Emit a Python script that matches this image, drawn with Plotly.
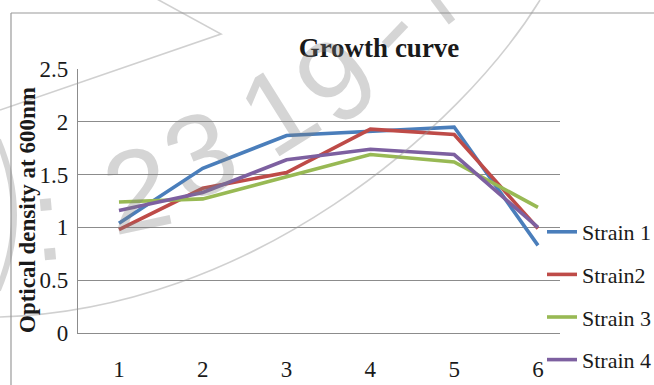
import plotly.graph_objects as go

# Sampling points (x axis) and optical density readings at 600 nm
time_points = [1, 2, 3, 4, 5, 6]
strain_names = ["Strain 1", "Strain2", "Strain 3", "Strain 4"]
strain_1 = [1.04, 1.56, 1.87, 1.91, 1.95, 0.83]
strain_2 = [0.98, 1.37, 1.52, 1.93, 1.88, 0.99]
strain_3 = [1.24, 1.27, 1.48, 1.69, 1.62, 1.19]
strain_4 = [1.16, 1.33, 1.64, 1.74, 1.69, 1.00]
y_ticks = [0, 0.5, 1, 1.5, 2, 2.5]

series = [strain_1, strain_2, strain_3, strain_4]
colors = ["#4a7ebb", "#be4b48", "#98b954", "#7d60a0"]

W, H = 654, 385
L, R, T, B = 78, 560, 69, 333  # plot area in pixels


def px(x):
    return (x - L) / (R - L)


def py(y):
    return (B - y) / (B - T)


fig = go.Figure()
for name, vals, col in zip(strain_names, series, colors):
    fig.add_trace(go.Scatter(
        x=time_points, y=vals, name=name, mode="lines",
        line=dict(color=col, width=3.6), legendgroup=name,
    ))

serif = "Liberation Serif"
grid = "#8c8c8c"
ink = "#1a1a1a"

fig.update_layout(
    width=W, height=H,
    margin=dict(l=L, r=W - R, t=T, b=H - B, autoexpand=False),
    paper_bgcolor="white", plot_bgcolor="white",
    font=dict(family=serif, color=ink),
    title=dict(text="<b>Growth curve</b>", x=379 / W, xanchor="center",
               y=1 - 48 / H, yanchor="middle",
               font=dict(family=serif, size=27, color=ink)),
    showlegend=True,
    legend=dict(x=px(542), xanchor="left", y=py(211), yanchor="top",
                font=dict(family=serif, size=22, color=ink),
                tracegroupgap=11, itemwidth=30, bgcolor="rgba(0,0,0,0)"),
    xaxis=dict(range=[0.511, 6.263], tickvals=time_points, automargin=False,
               showgrid=False, zeroline=False, showline=True,
               linecolor=grid, linewidth=1.2,
               ticks="outside", ticklen=15, tickcolor="rgba(0,0,0,0)",
               tickfont=dict(family=serif, size=23, color=ink)),
    yaxis=dict(range=[0, 2.5], tickvals=y_ticks, automargin=False,
               showgrid=True, gridcolor=grid, gridwidth=1, zeroline=False,
               showline=True, linecolor=grid, linewidth=1.2,
               ticks="outside", ticklen=4, tickcolor="rgba(0,0,0,0)",
               tickfont=dict(family=serif, size=23, color=ink)),
)

# vertical axis title
fig.add_annotation(text="<b>Optical density at 600nm</b>", xref="paper", yref="paper",
                   x=px(27), y=py(210), textangle=-90, showarrow=False,
                   xanchor="center", yanchor="middle",
                   font=dict(family=serif, size=23, color=ink))

# chart-area frame (top and left edges)
frame = dict(color="#9a9a9a", width=1.2)
fig.add_shape(type="line", xref="paper", yref="paper",
              x0=px(11), y0=py(13), x1=px(W + 5), y1=py(13), line=frame)
fig.add_shape(type="line", xref="paper", yref="paper",
              x0=px(11), y0=py(13), x1=px(11), y1=py(H + 5), line=frame)

# faint ISSN stamp overlay
stamp = "rgba(128,128,128,0.33)"
stamp_chars = [(":", 47, 220, -5), ("2", 137, 190, -12), ("3", 200, 155, -22),
               ("1", 278, 110, -32), ("9", 336, 80, -40)]
for ch, cx, cy, ang in stamp_chars:
    fig.add_annotation(text=ch, xref="paper", yref="paper", x=px(cx), y=py(cy),
                       showarrow=False, textangle=ang, xanchor="center",
                       yanchor="middle",
                       font=dict(family="Liberation Sans", size=116, color=stamp))


def path(points, cmd):
    return cmd.format(*[f"{px(a):.4f},{py(b):.4f}" for a, b in points])


# hyphen and edge strokes of the stamp, plus its thin ring lines
fig.add_shape(type="path", xref="paper", yref="paper", layer="above",
              line=dict(color=stamp, width=9),
              path=path([(385, 45), (405, 24)], "M{} L{}"))
fig.add_shape(type="path", xref="paper", yref="paper", layer="above",
              line=dict(color=stamp, width=8),
              path=path([(434, -2), (452, 22)], "M{} L{}"))
thin = dict(color="rgba(150,150,150,0.45)", width=1.6)
fig.add_shape(type="path", xref="paper", yref="paper", layer="above", line=thin,
              path=path([(0, 110), (221, 34), (155, -2)], "M{} L{} L{}"))
fig.add_shape(type="path", xref="paper", yref="paper", layer="above", line=thin,
              path=path([(0, 317), (250, 310), (460, 130), (540, 0)], "M{} C{} {} {}"))
fig.add_shape(type="path", xref="paper", yref="paper", layer="above",
              line=dict(color=stamp, width=6),
              path=path([(-2, 140), (30, 215), (-2, 290)], "M{} Q{} {}"))

fig.write_html("out.html")
